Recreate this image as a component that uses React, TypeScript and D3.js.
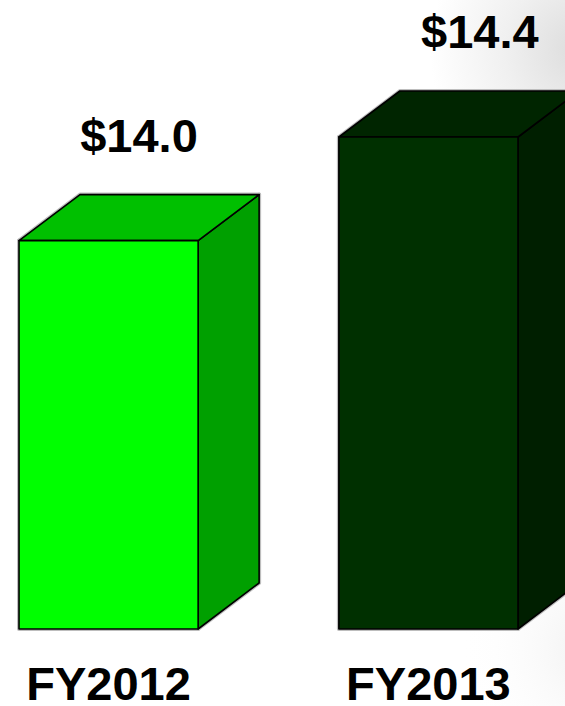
import React from "react";
import * as d3 from "d3";

const categories = ["FY2012", "FY2013"];
const values = [14.0, 14.4];
const valueLabels = ["$14.0", "$14.4"];
const frontColors = ["#00ff00", "#003000"];
const topColors = ["#00c000", "#002500"];
const sideColors = ["#00a000", "#001f00"];

const W = 565;
const H = 706;
const depthX = 61;
const depthY = 46;

export default function App() {
  const x = d3.scaleBand<string>().domain(categories).range([19, 518]).paddingInner(0.44).paddingOuter(0);
  const y = d3.scaleLinear().domain([12.5, 14.4]).range([629, 137]);
  const base = y(12.5);
  const bw = x.bandwidth();
  const font = "'Liberation Sans', Arial, sans-serif";

  return (
    <svg width={W} height={H} style={{ position: "absolute", left: 0, top: 0, display: "block" }}>
      <defs>
        <radialGradient id="bgTR" cx={580} cy={50} r={150} gradientUnits="userSpaceOnUse">
          <stop offset="0" stopColor="#dcdcdc" />
          <stop offset="0.5" stopColor="#f0f0f0" />
          <stop offset="1" stopColor="#ffffff" />
        </radialGradient>
        <radialGradient id="bgBR" cx={600} cy={650} r={140} gradientUnits="userSpaceOnUse">
          <stop offset="0" stopColor="#efefef" />
          <stop offset="1" stopColor="#ffffff" stopOpacity="0" />
        </radialGradient>
      </defs>
      <rect width={W} height={H} fill="#ffffff" />
      <rect width={W} height={H} fill="url(#bgTR)" />
      <rect width={W} height={H} fill="url(#bgBR)" />
      {categories.map((c, i) => {
        const x0 = x(c)!;
        const x1 = x0 + bw;
        const yt = y(values[i]);
        const front = `M${x0},${yt}L${x1},${yt}L${x1},${base}L${x0},${base}Z`;
        const top = `M${x0},${yt}L${x0 + depthX},${yt - depthY}L${x1 + depthX},${yt - depthY}L${x1},${yt}Z`;
        const side = `M${x1},${yt}L${x1 + depthX},${yt - depthY}L${x1 + depthX},${base - depthY}L${x1},${base}Z`;
        return (
          <g key={c}>
            <g stroke="#bdbdbd" strokeWidth={4} fill="none" strokeLinejoin="round">
              <path d={front} />
              <path d={top} />
              <path d={side} />
            </g>
            <path d={side} fill={sideColors[i]} stroke="#000" strokeWidth={1.6} strokeLinejoin="round" />
            <path d={top} fill={topColors[i]} stroke="#000" strokeWidth={1.6} strokeLinejoin="round" />
            <path d={front} fill={frontColors[i]} stroke="#000" strokeWidth={1.6} strokeLinejoin="round" />
            <text
              x={x0 + bw * 0.67 + i * 21}
              y={yt - depthY - 43}
              textAnchor="middle"
              fontFamily={font}
              fontWeight="bold"
              fontSize={47}
              fill="#000"
            >
              {valueLabels[i]}
            </text>
            <text
              x={x0 + bw / 2}
              y={700}
              textAnchor="middle"
              fontFamily={font}
              fontWeight="bold"
              fontSize={47}
              fill="#000"
            >
              {c}
            </text>
          </g>
        );
      })}
    </svg>
  );
}
